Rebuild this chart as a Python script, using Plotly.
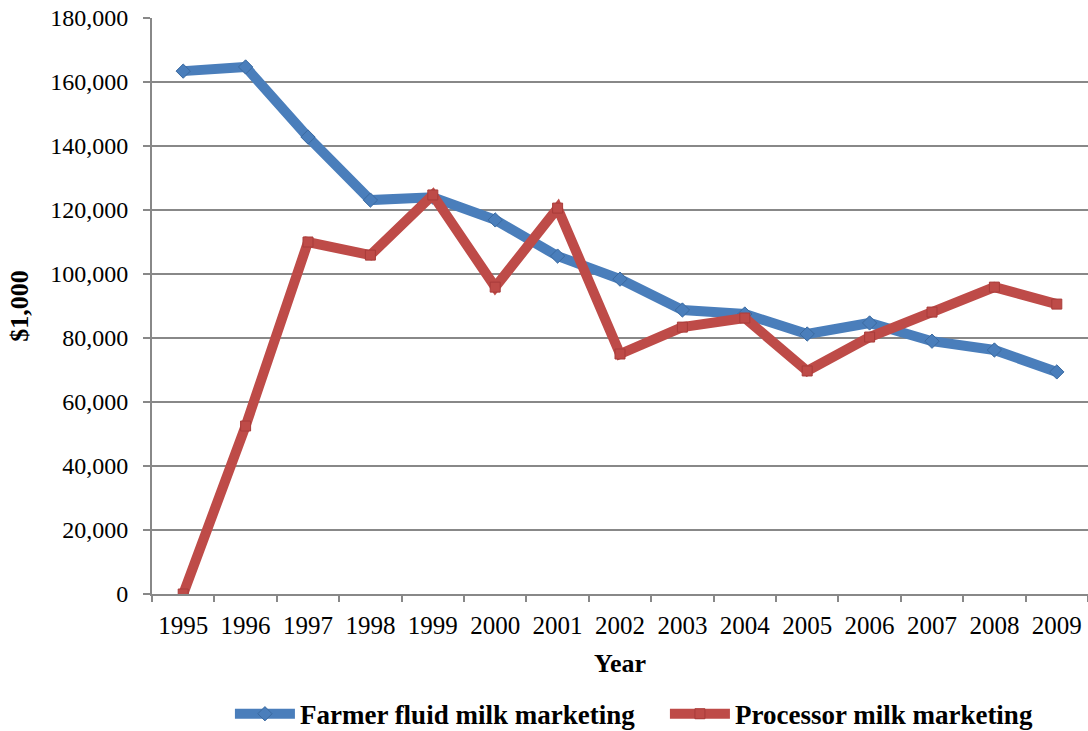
import plotly.graph_objects as go

years = ["1995", "1996", "1997", "1998", "1999", "2000", "2001", "2002",
         "2003", "2004", "2005", "2006", "2007", "2008", "2009"]
farmer = [163400, 164700, 142800, 123100, 124000, 116900, 105600, 98400,
          88750, 87500, 81250, 84700, 79000, 76250, 69400]
processor = [0, 52500, 110000, 105900, 124700, 95900, 120600, 75000,
             83400, 86250, 69700, 80300, 88100, 95900, 90600]

font_family = "Liberation Serif, Times New Roman, serif"

fig = go.Figure()
fig.add_trace(go.Scatter(
    x=years, y=farmer, name="Farmer fluid milk marketing", mode="lines+markers",
    line=dict(color="#4a7ebb", width=10),
    marker=dict(symbol="diamond", size=11, color="#4a7ebb",
                line=dict(color="#3b6aa0", width=1)),
))
fig.add_trace(go.Scatter(
    x=years, y=processor, name="Processor milk marketing", mode="lines+markers",
    line=dict(color="#be4b48", width=10),
    marker=dict(symbol="square", size=10, color="#be4b48",
                line=dict(color="#a83c3a", width=1)),
))

fig.update_layout(
    width=1088, height=731,
    margin=dict(l=152, r=0, t=18, b=137, autoexpand=False),
    plot_bgcolor="white", paper_bgcolor="white",
    font=dict(family=font_family, size=24, color="black"),
    showlegend=True,
    legend=dict(orientation="h", x=0.548, xanchor="center",
                yref="container", y=0.023, yanchor="middle",
                font=dict(size=27, family=font_family, weight="bold"),
                itemwidth=60, tracegroupgap=0, entrywidth=360),
    xaxis=dict(
        type="category", range=[-0.5, 14.5], automargin=False,
        showline=True, linecolor="#888888", linewidth=2,
        ticks="outside", tickson="boundaries", ticklen=6, tickcolor="#888888", tickwidth=2,
        showgrid=False,
        ticklabelstandoff=8,
        title=dict(text="<b>Year</b>", font=dict(size=26), standoff=16),
        tickfont=dict(size=25),
    ),
    yaxis=dict(
        range=[0, 180000], tickvals=list(range(0, 180001, 20000)),
        tickformat=",d", automargin=False,
        showline=True, linecolor="#888888", linewidth=2,
        ticks="outside", ticklen=7, tickcolor="#888888", tickwidth=2,
        showgrid=True, gridcolor="#888888", gridwidth=2,
        zeroline=False,
        ticklabelstandoff=10,
        title=dict(text="<b>$1,000</b>", font=dict(size=26), standoff=14),
        tickfont=dict(size=24),
    ),
)

fig.write_html("out.html")
